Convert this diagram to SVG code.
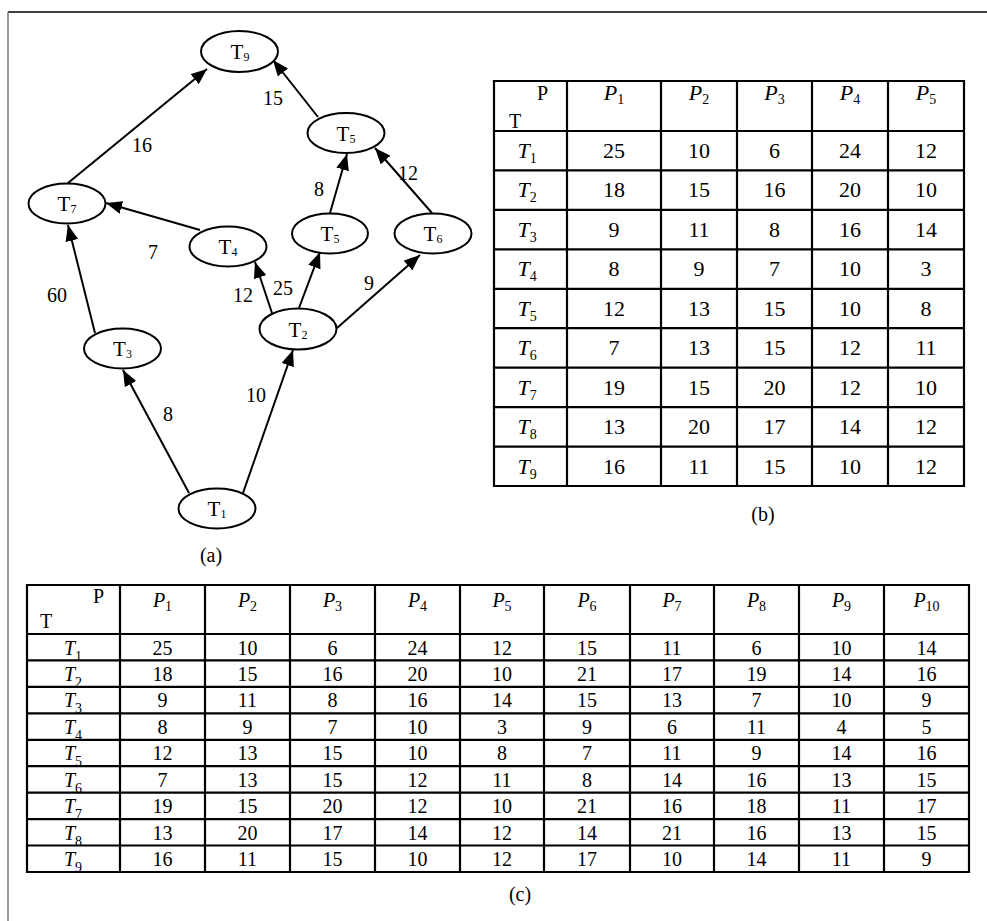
<svg xmlns="http://www.w3.org/2000/svg" width="987" height="921" viewBox="0 0 987 921" font-family="'Liberation Serif','Times New Roman',serif">
<defs>
<marker id="ah" markerUnits="userSpaceOnUse" markerWidth="17" markerHeight="13" refX="16" refY="6.5" orient="auto">
<path d="M0,0 L16,6.5 L0,13 z" fill="#000"/>
</marker>
<style>
text{font-family:"Liberation Serif","Times New Roman",serif;fill:#000}
.nd ellipse{fill:#fff;stroke:#000;stroke-width:2}
.nd text{font-size:21px;text-anchor:middle}
.sub{font-size:12px}
.edges line{stroke:#000;stroke-width:2;marker-end:url(#ah)}
.el{font-size:20px;text-anchor:middle}
.grid line{stroke:#000;stroke-width:2.2}
.tb{font-size:22px;text-anchor:middle}
.tc{font-size:20px;text-anchor:middle}
.it{font-style:italic}
.cap{font-size:20px;text-anchor:middle}
</style>
</defs>
<rect width="987" height="921" fill="#fff"/>
<line x1="8" y1="12" x2="987" y2="12" stroke="#000" stroke-width="1.5"/>
<line x1="8" y1="12" x2="8" y2="921" stroke="#777" stroke-width="1.5"/>

<g id="connectors" class="edges">
<line x1="68" y1="183" x2="207" y2="69"/>
<line x1="318" y1="117" x2="273" y2="60"/>
<line x1="330" y1="213" x2="347" y2="154"/>
<line x1="432" y1="213" x2="375" y2="148"/>
<line x1="200" y1="230" x2="106" y2="203"/>
<line x1="95" y1="333" x2="68" y2="225"/>
<line x1="272" y1="313" x2="255" y2="262"/>
<line x1="299" y1="308" x2="320" y2="252"/>
<line x1="337" y1="328" x2="420" y2="255"/>
<line x1="189" y1="493" x2="123" y2="370"/>
<line x1="243" y1="493" x2="293" y2="350"/>
</g>

<g id="edge-labels">
<text class="el" x="142" y="152">16</text>
<text class="el" x="273" y="105">15</text>
<text class="el" x="408" y="180">12</text>
<text class="el" x="319" y="196">8</text>
<text class="el" x="153" y="259">7</text>
<text class="el" x="369" y="290">9</text>
<text class="el" x="283" y="295">25</text>
<text class="el" x="243" y="302">12</text>
<text class="el" x="57" y="302">60</text>
<text class="el" x="168" y="421">8</text>
<text class="el" x="256" y="402">10</text>
</g>

<g id="T9" class="nd"><ellipse cx="239.5" cy="51.5" rx="38.5" ry="20.5"/><text x="240" y="59">T<tspan class="sub" dy="2">9</tspan></text></g>
<g id="T5a" class="nd"><ellipse cx="346" cy="133" rx="38.5" ry="20"/><text x="346" y="140.5">T<tspan class="sub" dy="2">5</tspan></text></g>
<g id="T7" class="nd"><ellipse cx="67" cy="203.5" rx="38.5" ry="20"/><text x="67" y="211">T<tspan class="sub" dy="2">7</tspan></text></g>
<g id="T4" class="nd"><ellipse cx="228" cy="246.5" rx="38.5" ry="20"/><text x="228" y="254">T<tspan class="sub" dy="2">4</tspan></text></g>
<g id="T5b" class="nd"><ellipse cx="330" cy="233.5" rx="38" ry="20"/><text x="330" y="241">T<tspan class="sub" dy="2">5</tspan></text></g>
<g id="T6" class="nd"><ellipse cx="433" cy="233.5" rx="38.5" ry="20"/><text x="433" y="241">T<tspan class="sub" dy="2">6</tspan></text></g>
<g id="T2" class="nd"><ellipse cx="298" cy="329" rx="38.5" ry="20.5"/><text x="298" y="336.5">T<tspan class="sub" dy="2">2</tspan></text></g>
<g id="T3" class="nd"><ellipse cx="122.5" cy="348.5" rx="38.5" ry="20"/><text x="122.5" y="356">T<tspan class="sub" dy="2">3</tspan></text></g>
<g id="T1" class="nd"><ellipse cx="217" cy="508.5" rx="38.5" ry="20"/><text x="217" y="516">T<tspan class="sub" dy="2">1</tspan></text></g>

<text class="cap" x="211" y="562">(a)</text>

<g id="table-b">
<g class="grid">
<line x1="494" y1="81" x2="964" y2="81"/>
<line x1="494" y1="131" x2="964" y2="131"/>
<line x1="494" y1="170.4" x2="964" y2="170.4"/>
<line x1="494" y1="209.9" x2="964" y2="209.9"/>
<line x1="494" y1="249.3" x2="964" y2="249.3"/>
<line x1="494" y1="288.8" x2="964" y2="288.8"/>
<line x1="494" y1="328.2" x2="964" y2="328.2"/>
<line x1="494" y1="367.7" x2="964" y2="367.7"/>
<line x1="494" y1="407.1" x2="964" y2="407.1"/>
<line x1="494" y1="446.6" x2="964" y2="446.6"/>
<line x1="494" y1="486" x2="964" y2="486"/>
<line x1="494" y1="80" x2="494" y2="487"/>
<line x1="567" y1="80" x2="567" y2="487"/>
<line x1="661" y1="80" x2="661" y2="487"/>
<line x1="737" y1="80" x2="737" y2="487"/>
<line x1="812" y1="80" x2="812" y2="487"/>
<line x1="888" y1="80" x2="888" y2="487"/>
<line x1="964" y1="80" x2="964" y2="487"/>
</g>
<text x="537" y="100" style="font-size:20px">P</text>
<text x="509" y="128" style="font-size:20px">T</text>
<g class="tb">
<text x="614" y="100"><tspan class="it">P</tspan><tspan dy="4" style="font-size:14px">1</tspan></text>
<text x="699" y="100"><tspan class="it">P</tspan><tspan dy="4" style="font-size:14px">2</tspan></text>
<text x="774.5" y="100"><tspan class="it">P</tspan><tspan dy="4" style="font-size:14px">3</tspan></text>
<text x="850" y="100"><tspan class="it">P</tspan><tspan dy="4" style="font-size:14px">4</tspan></text>
<text x="926" y="100"><tspan class="it">P</tspan><tspan dy="4" style="font-size:14px">5</tspan></text>
</g>
<g class="tb">
<text x="527" y="158"><tspan class="it">T</tspan><tspan style="font-size:14px" dy="5">1</tspan></text>
<text x="614" y="158">25</text><text x="699" y="158">10</text><text x="774.5" y="158">6</text><text x="850" y="158">24</text><text x="926" y="158">12</text>
<text x="527" y="197.4"><tspan class="it">T</tspan><tspan style="font-size:14px" dy="5">2</tspan></text>
<text x="614" y="197.4">18</text><text x="699" y="197.4">15</text><text x="774.5" y="197.4">16</text><text x="850" y="197.4">20</text><text x="926" y="197.4">10</text>
<text x="527" y="236.9"><tspan class="it">T</tspan><tspan style="font-size:14px" dy="5">3</tspan></text>
<text x="614" y="236.9">9</text><text x="699" y="236.9">11</text><text x="774.5" y="236.9">8</text><text x="850" y="236.9">16</text><text x="926" y="236.9">14</text>
<text x="527" y="276.3"><tspan class="it">T</tspan><tspan style="font-size:14px" dy="5">4</tspan></text>
<text x="614" y="276.3">8</text><text x="699" y="276.3">9</text><text x="774.5" y="276.3">7</text><text x="850" y="276.3">10</text><text x="926" y="276.3">3</text>
<text x="527" y="315.8"><tspan class="it">T</tspan><tspan style="font-size:14px" dy="5">5</tspan></text>
<text x="614" y="315.8">12</text><text x="699" y="315.8">13</text><text x="774.5" y="315.8">15</text><text x="850" y="315.8">10</text><text x="926" y="315.8">8</text>
<text x="527" y="355.2"><tspan class="it">T</tspan><tspan style="font-size:14px" dy="5">6</tspan></text>
<text x="614" y="355.2">7</text><text x="699" y="355.2">13</text><text x="774.5" y="355.2">15</text><text x="850" y="355.2">12</text><text x="926" y="355.2">11</text>
<text x="527" y="394.7"><tspan class="it">T</tspan><tspan style="font-size:14px" dy="5">7</tspan></text>
<text x="614" y="394.7">19</text><text x="699" y="394.7">15</text><text x="774.5" y="394.7">20</text><text x="850" y="394.7">12</text><text x="926" y="394.7">10</text>
<text x="527" y="434.1"><tspan class="it">T</tspan><tspan style="font-size:14px" dy="5">8</tspan></text>
<text x="614" y="434.1">13</text><text x="699" y="434.1">20</text><text x="774.5" y="434.1">17</text><text x="850" y="434.1">14</text><text x="926" y="434.1">12</text>
<text x="527" y="473.6"><tspan class="it">T</tspan><tspan style="font-size:14px" dy="5">9</tspan></text>
<text x="614" y="473.6">16</text><text x="699" y="473.6">11</text><text x="774.5" y="473.6">15</text><text x="850" y="473.6">10</text><text x="926" y="473.6">12</text>
</g>
<text class="cap" x="763" y="521">(b)</text>
</g>

<g id="table-c">
<g class="grid">
<line x1="27" y1="585" x2="969" y2="585"/>
<line x1="27" y1="634" x2="969" y2="634"/>
<line x1="27" y1="660.4" x2="969" y2="660.4"/>
<line x1="27" y1="686.9" x2="969" y2="686.9"/>
<line x1="27" y1="713.3" x2="969" y2="713.3"/>
<line x1="27" y1="739.8" x2="969" y2="739.8"/>
<line x1="27" y1="766.2" x2="969" y2="766.2"/>
<line x1="27" y1="792.6" x2="969" y2="792.6"/>
<line x1="27" y1="819.1" x2="969" y2="819.1"/>
<line x1="27" y1="845.5" x2="969" y2="845.5"/>
<line x1="27" y1="872" x2="969" y2="872"/>
<line x1="27" y1="584" x2="27" y2="873"/>
<line x1="120" y1="584" x2="120" y2="873"/>
<line x1="205" y1="584" x2="205" y2="873"/>
<line x1="290" y1="584" x2="290" y2="873"/>
<line x1="375" y1="584" x2="375" y2="873"/>
<line x1="460" y1="584" x2="460" y2="873"/>
<line x1="544" y1="584" x2="544" y2="873"/>
<line x1="630" y1="584" x2="630" y2="873"/>
<line x1="714" y1="584" x2="714" y2="873"/>
<line x1="799" y1="584" x2="799" y2="873"/>
<line x1="884" y1="584" x2="884" y2="873"/>
<line x1="969" y1="584" x2="969" y2="873"/>
</g>
<text x="93" y="603" style="font-size:20px">P</text>
<text x="40" y="628" style="font-size:20px">T</text>
<g class="tc">
<text x="162.5" y="607"><tspan class="it">P</tspan><tspan style="font-size:14px" dy="4">1</tspan></text>
<text x="247.5" y="607"><tspan class="it">P</tspan><tspan style="font-size:14px" dy="4">2</tspan></text>
<text x="332.5" y="607"><tspan class="it">P</tspan><tspan style="font-size:14px" dy="4">3</tspan></text>
<text x="417.5" y="607"><tspan class="it">P</tspan><tspan style="font-size:14px" dy="4">4</tspan></text>
<text x="502" y="607"><tspan class="it">P</tspan><tspan style="font-size:14px" dy="4">5</tspan></text>
<text x="587" y="607"><tspan class="it">P</tspan><tspan style="font-size:14px" dy="4">6</tspan></text>
<text x="672" y="607"><tspan class="it">P</tspan><tspan style="font-size:14px" dy="4">7</tspan></text>
<text x="756.5" y="607"><tspan class="it">P</tspan><tspan style="font-size:14px" dy="4">8</tspan></text>
<text x="841.5" y="607"><tspan class="it">P</tspan><tspan style="font-size:14px" dy="4">9</tspan></text>
<text x="926.5" y="607"><tspan class="it">P</tspan><tspan style="font-size:14px" dy="4">10</tspan></text>
</g>
<g class="tc">
<text x="73" y="654.5"><tspan class="it">T</tspan><tspan style="font-size:14px" dy="6">1</tspan></text>
<text x="162.5" y="654.5">25</text><text x="247.5" y="654.5">10</text><text x="332.5" y="654.5">6</text><text x="417.5" y="654.5">24</text><text x="502" y="654.5">12</text><text x="587" y="654.5">15</text><text x="672" y="654.5">11</text><text x="756.5" y="654.5">6</text><text x="841.5" y="654.5">10</text><text x="926.5" y="654.5">14</text>
<text x="73" y="681"><tspan class="it">T</tspan><tspan style="font-size:14px" dy="6">2</tspan></text>
<text x="162.5" y="681">18</text><text x="247.5" y="681">15</text><text x="332.5" y="681">16</text><text x="417.5" y="681">20</text><text x="502" y="681">10</text><text x="587" y="681">21</text><text x="672" y="681">17</text><text x="756.5" y="681">19</text><text x="841.5" y="681">14</text><text x="926.5" y="681">16</text>
<text x="73" y="707.4"><tspan class="it">T</tspan><tspan style="font-size:14px" dy="6">3</tspan></text>
<text x="162.5" y="707.4">9</text><text x="247.5" y="707.4">11</text><text x="332.5" y="707.4">8</text><text x="417.5" y="707.4">16</text><text x="502" y="707.4">14</text><text x="587" y="707.4">15</text><text x="672" y="707.4">13</text><text x="756.5" y="707.4">7</text><text x="841.5" y="707.4">10</text><text x="926.5" y="707.4">9</text>
<text x="73" y="733.8"><tspan class="it">T</tspan><tspan style="font-size:14px" dy="6">4</tspan></text>
<text x="162.5" y="733.8">8</text><text x="247.5" y="733.8">9</text><text x="332.5" y="733.8">7</text><text x="417.5" y="733.8">10</text><text x="502" y="733.8">3</text><text x="587" y="733.8">9</text><text x="672" y="733.8">6</text><text x="756.5" y="733.8">11</text><text x="841.5" y="733.8">4</text><text x="926.5" y="733.8">5</text>
<text x="73" y="760.3"><tspan class="it">T</tspan><tspan style="font-size:14px" dy="6">5</tspan></text>
<text x="162.5" y="760.3">12</text><text x="247.5" y="760.3">13</text><text x="332.5" y="760.3">15</text><text x="417.5" y="760.3">10</text><text x="502" y="760.3">8</text><text x="587" y="760.3">7</text><text x="672" y="760.3">11</text><text x="756.5" y="760.3">9</text><text x="841.5" y="760.3">14</text><text x="926.5" y="760.3">16</text>
<text x="73" y="786.7"><tspan class="it">T</tspan><tspan style="font-size:14px" dy="6">6</tspan></text>
<text x="162.5" y="786.7">7</text><text x="247.5" y="786.7">13</text><text x="332.5" y="786.7">15</text><text x="417.5" y="786.7">12</text><text x="502" y="786.7">11</text><text x="587" y="786.7">8</text><text x="672" y="786.7">14</text><text x="756.5" y="786.7">16</text><text x="841.5" y="786.7">13</text><text x="926.5" y="786.7">15</text>
<text x="73" y="813.2"><tspan class="it">T</tspan><tspan style="font-size:14px" dy="6">7</tspan></text>
<text x="162.5" y="813.2">19</text><text x="247.5" y="813.2">15</text><text x="332.5" y="813.2">20</text><text x="417.5" y="813.2">12</text><text x="502" y="813.2">10</text><text x="587" y="813.2">21</text><text x="672" y="813.2">16</text><text x="756.5" y="813.2">18</text><text x="841.5" y="813.2">11</text><text x="926.5" y="813.2">17</text>
<text x="73" y="839.6"><tspan class="it">T</tspan><tspan style="font-size:14px" dy="6">8</tspan></text>
<text x="162.5" y="839.6">13</text><text x="247.5" y="839.6">20</text><text x="332.5" y="839.6">17</text><text x="417.5" y="839.6">14</text><text x="502" y="839.6">12</text><text x="587" y="839.6">14</text><text x="672" y="839.6">21</text><text x="756.5" y="839.6">16</text><text x="841.5" y="839.6">13</text><text x="926.5" y="839.6">15</text>
<text x="73" y="866"><tspan class="it">T</tspan><tspan style="font-size:14px" dy="6">9</tspan></text>
<text x="162.5" y="866">16</text><text x="247.5" y="866">11</text><text x="332.5" y="866">15</text><text x="417.5" y="866">10</text><text x="502" y="866">12</text><text x="587" y="866">17</text><text x="672" y="866">10</text><text x="756.5" y="866">14</text><text x="841.5" y="866">11</text><text x="926.5" y="866">9</text>
</g>
<text class="cap" x="520" y="901">(c)</text>
</g>
</svg>
